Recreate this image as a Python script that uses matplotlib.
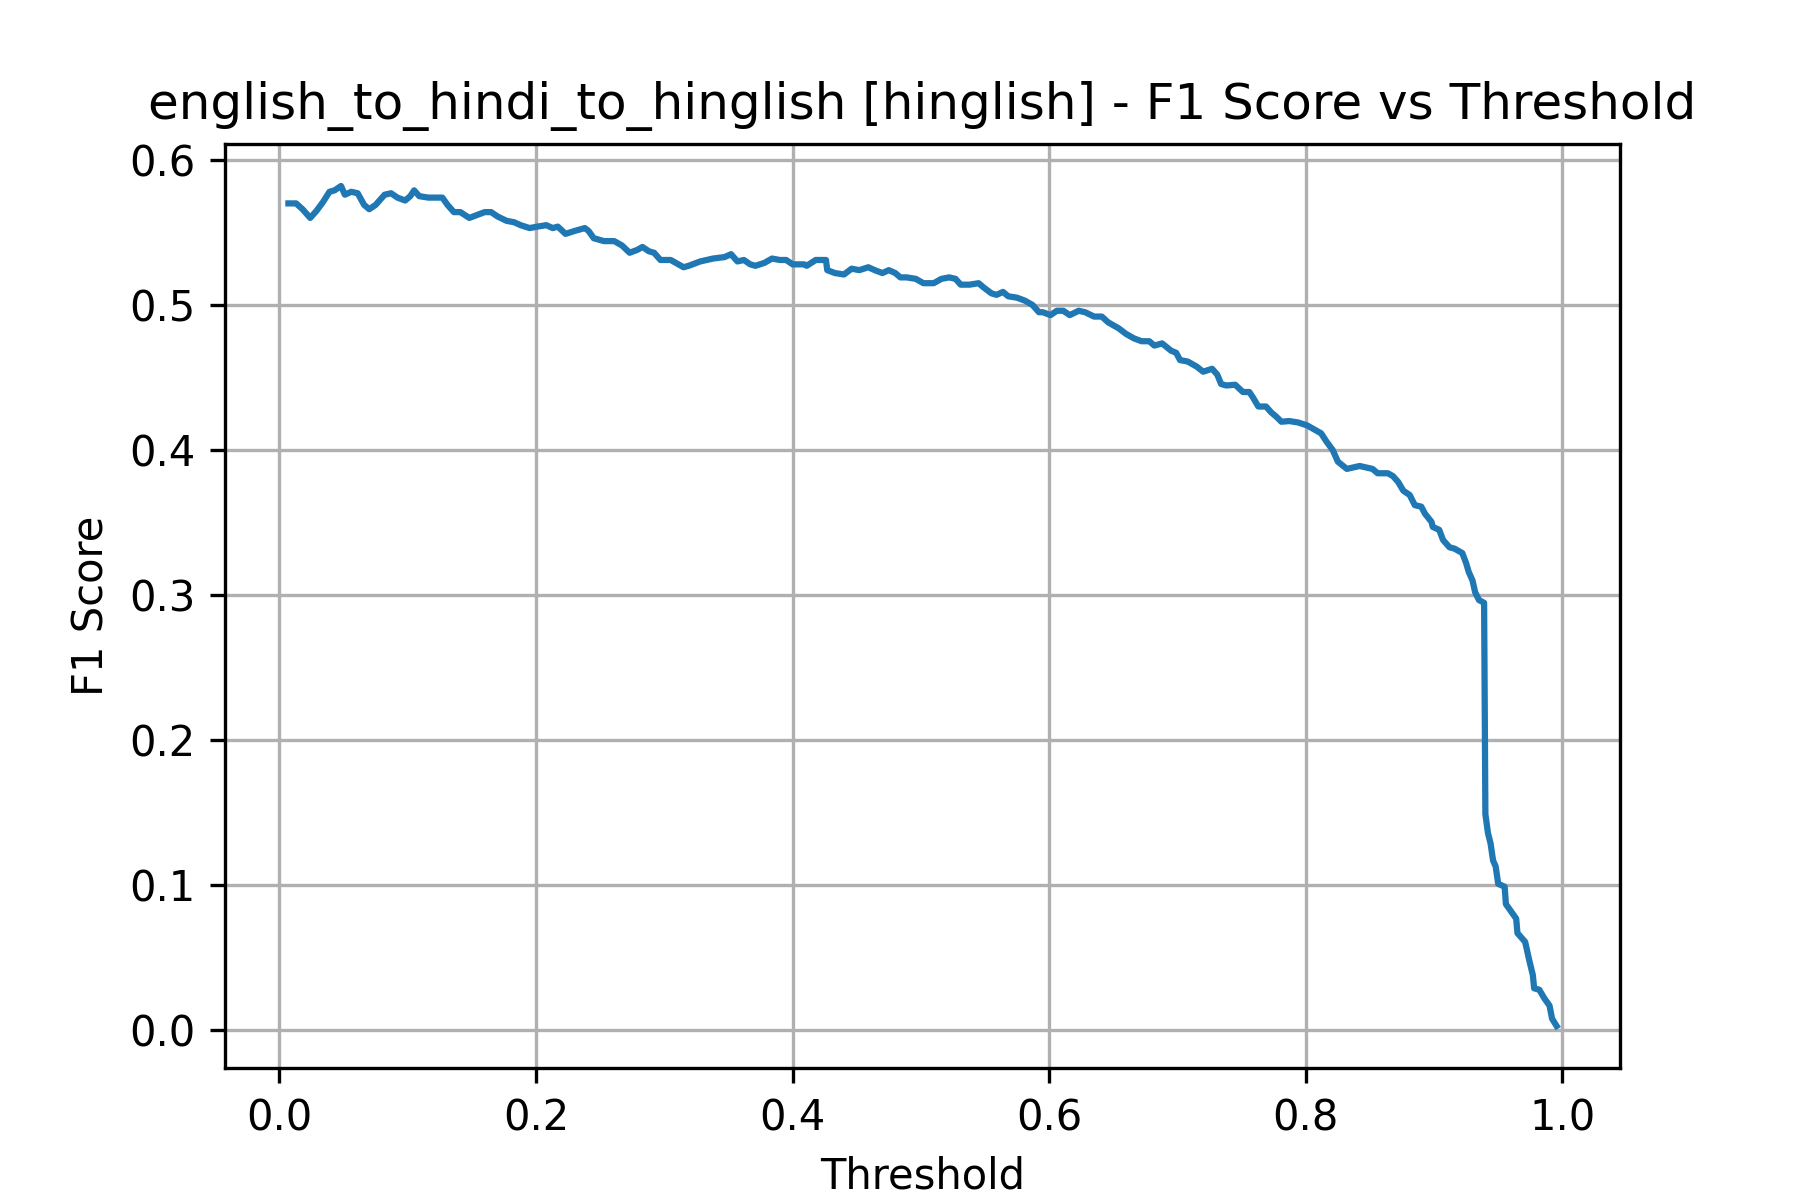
import matplotlib
matplotlib.use("Agg")
import matplotlib.pyplot as plt

# values
thresholds = [
    0.007, 0.013, 0.018, 0.024, 0.029, 0.034, 0.039, 0.043, 0.048, 0.051,
    0.056, 0.061, 0.066, 0.070, 0.075, 0.082, 0.087, 0.092, 0.098, 0.102,
    0.105, 0.109, 0.116, 0.123, 0.127, 0.131, 0.136, 0.141, 0.148, 0.154,
    0.160, 0.165, 0.170, 0.177, 0.183, 0.188, 0.195, 0.201, 0.208, 0.213,
    0.217, 0.223, 0.230, 0.238, 0.241, 0.245, 0.253, 0.261, 0.267, 0.273,
    0.279, 0.283, 0.288, 0.292, 0.297, 0.305, 0.309, 0.315, 0.319, 0.328,
    0.338, 0.347, 0.352, 0.357, 0.362, 0.367, 0.371, 0.378, 0.384, 0.390,
    0.395, 0.400, 0.409, 0.411, 0.418, 0.426, 0.427, 0.433, 0.440, 0.446,
    0.452, 0.459, 0.464, 0.470, 0.475, 0.480, 0.484, 0.489, 0.496, 0.502,
    0.510, 0.516, 0.522, 0.527, 0.531, 0.538, 0.545, 0.549, 0.555, 0.559,
    0.564, 0.568, 0.575, 0.581, 0.587, 0.592, 0.595, 0.601, 0.606, 0.611,
    0.616, 0.623, 0.628, 0.635, 0.641, 0.646, 0.654, 0.660, 0.666, 0.672,
    0.678, 0.682, 0.688, 0.695, 0.699, 0.702, 0.708, 0.715, 0.720, 0.727,
    0.731, 0.734, 0.738, 0.745, 0.751, 0.756, 0.759, 0.763, 0.769, 0.773,
    0.777, 0.781, 0.787, 0.794, 0.801, 0.806, 0.812, 0.816, 0.821, 0.825,
    0.832, 0.842, 0.847, 0.852, 0.856, 0.864, 0.868, 0.872, 0.876, 0.881,
    0.885, 0.890, 0.893, 0.898, 0.899, 0.904, 0.907, 0.912, 0.916, 0.922,
    0.925, 0.927, 0.930, 0.932, 0.935, 0.939, 0.940, 0.942, 0.944, 0.946,
    0.948, 0.950, 0.955, 0.956, 0.960, 0.964, 0.965, 0.969, 0.971, 0.974,
    0.977, 0.978, 0.982, 0.986, 0.990, 0.992, 0.9955,
]
f1_scores = [
    0.570, 0.570, 0.566, 0.560, 0.565, 0.571, 0.578, 0.579, 0.582, 0.576,
    0.578, 0.577, 0.569, 0.566, 0.569, 0.576, 0.577, 0.574, 0.572, 0.575,
    0.579, 0.575, 0.574, 0.574, 0.574, 0.569, 0.564, 0.564, 0.560, 0.562,
    0.564, 0.564, 0.561, 0.558, 0.557, 0.555, 0.553, 0.554, 0.555, 0.553,
    0.554, 0.549, 0.551, 0.553, 0.551, 0.546, 0.544, 0.544, 0.541, 0.536,
    0.538, 0.540, 0.537, 0.536, 0.531, 0.531, 0.529, 0.526, 0.527, 0.530,
    0.532, 0.533, 0.535, 0.530, 0.531, 0.528, 0.527, 0.529, 0.532, 0.531,
    0.531, 0.528, 0.528, 0.527, 0.531, 0.531, 0.524, 0.522, 0.521, 0.525,
    0.524, 0.526, 0.524, 0.522, 0.524, 0.522, 0.519, 0.519, 0.518, 0.515,
    0.515, 0.518, 0.519, 0.518, 0.514, 0.514, 0.515, 0.512, 0.508, 0.507,
    0.509, 0.506, 0.505, 0.503, 0.500, 0.495, 0.495, 0.493, 0.496, 0.496,
    0.493, 0.496, 0.495, 0.492, 0.492, 0.488, 0.484, 0.480, 0.477, 0.475,
    0.475, 0.472, 0.4735, 0.4685, 0.467, 0.462, 0.461, 0.4575, 0.454, 0.456,
    0.452, 0.4455, 0.4445, 0.445, 0.440, 0.440, 0.436, 0.430, 0.430, 0.426,
    0.423, 0.4195, 0.420, 0.419, 0.417, 0.4145, 0.4115, 0.406, 0.400, 0.392,
    0.387, 0.389, 0.388, 0.387, 0.384, 0.384, 0.382, 0.378, 0.372, 0.369,
    0.362, 0.361, 0.356, 0.3505, 0.347, 0.345, 0.338, 0.333, 0.332, 0.329,
    0.322, 0.316, 0.310, 0.302, 0.2966, 0.2947, 0.149, 0.136, 0.129, 0.117,
    0.113, 0.101, 0.099, 0.087, 0.082, 0.077, 0.067, 0.063, 0.061, 0.049,
    0.038, 0.029, 0.028, 0.022, 0.017, 0.008, 0.003,
]

fig, ax = plt.subplots(figsize=(6, 4), dpi=300)
ax.plot(thresholds, f1_scores)
ax.set_xlabel("Threshold")
ax.set_ylabel("F1 Score")
ax.set_title("english_to_hindi_to_hinglish [hinglish] - F1 Score vs Threshold")
ax.grid(True)

fig.savefig("out.png", dpi=300)
